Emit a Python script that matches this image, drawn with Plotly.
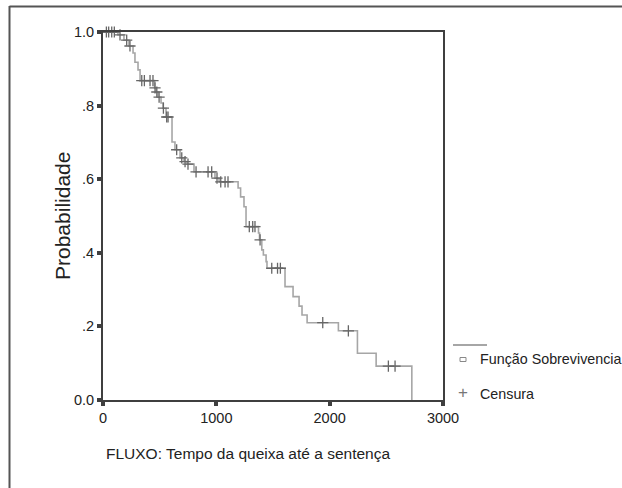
import plotly.graph_objects as go

# Kaplan-Meier survival steps (time, survival)
step_times = [0, 132, 185, 229, 265, 282, 309, 327, 455, 468, 485, 512, 530, 556,
              609, 635, 680, 715, 741, 803, 988, 1024, 1192, 1214, 1244, 1262,
              1372, 1381, 1401, 1415, 1439, 1447, 1606, 1677, 1730, 1756, 1801,
              2077, 2245, 2410, 2725]
step_surv = [1.0, 0.992, 0.978, 0.962, 0.943, 0.918, 0.897, 0.868, 0.848, 0.837,
             0.823, 0.807, 0.793, 0.769, 0.701, 0.680, 0.658, 0.648, 0.641, 0.620,
             0.603, 0.593, 0.576, 0.552, 0.525, 0.471, 0.454, 0.435, 0.408, 0.394,
             0.376, 0.358, 0.308, 0.281, 0.255, 0.231, 0.210, 0.188, 0.127, 0.092,
             0.0]

# Censored observations
censor_times = [30, 50, 77, 100, 150, 209, 238, 342, 365, 415, 441, 459, 475, 495,
                533, 562, 574, 650, 695, 724, 750, 821, 927, 959, 1006, 1039, 1077,
                1103, 1291, 1321, 1341, 1386, 1489, 1540, 1565, 1939, 2165, 2518, 2577]
censor_surv = [1.0, 1.0, 1.0, 1.0, 0.992, 0.978, 0.962, 0.868, 0.868, 0.868, 0.868,
               0.848, 0.837, 0.823, 0.793, 0.769, 0.769, 0.680, 0.658, 0.648, 0.641,
               0.620, 0.620, 0.620, 0.603, 0.593, 0.593, 0.593, 0.471, 0.471, 0.471,
               0.435, 0.358, 0.358, 0.358, 0.210, 0.188, 0.092, 0.092]

x_ticks = [0, 1000, 2000, 3000]
y_ticks = [0.0, 0.2, 0.4, 0.6, 0.8, 1.0]
y_tick_labels = ["0.0", ".2", ".4", ".6", ".8", "1.0"]

FONT = "Liberation Sans, Arial, sans-serif"
FRAME = "#3f3f3f"

W, H = 622, 488
L, R, T, B = 103, 443, 32, 400
pw, ph = R - L, B - T


def px(x):
    return (x - L) / pw


def py(y):
    return (B - y) / ph


fig = go.Figure()
fig.add_trace(go.Scatter(
    x=step_times, y=step_surv, mode="lines", line_shape="hv",
    line=dict(color="#a6a6a6", width=1.6), cliponaxis=False,
    name="Função Sobrevivencia", showlegend=False, hoverinfo="skip"))
fig.add_trace(go.Scatter(
    x=censor_times, y=censor_surv, mode="markers", cliponaxis=False,
    marker=dict(symbol="cross-thin", size=8, line=dict(color="#666666", width=1.3)),
    name="Censura", showlegend=False, hoverinfo="skip"))

fig.update_xaxes(range=[0, 3000], tickvals=x_ticks, showgrid=False, zeroline=False,
                 showline=True, mirror=True, linecolor=FRAME, linewidth=2,
                 ticks="outside", ticklen=4, tickwidth=4, tickcolor=FRAME,
                 tickfont=dict(family=FONT, size=14.5, color="#222"))
fig.update_yaxes(range=[0, 1], tickvals=y_ticks, ticktext=y_tick_labels,
                 showgrid=False, zeroline=False,
                 showline=True, mirror=True, linecolor=FRAME, linewidth=2,
                 ticks="outside", ticklen=4, tickwidth=4, tickcolor=FRAME,
                 tickfont=dict(family=FONT, size=14.5, color="#222"))

annotations = [
    dict(text="Probabilidade", x=px(62), y=py(216), xref="paper", yref="paper",
         textangle=-90, showarrow=False, xanchor="center", yanchor="middle",
         font=dict(family=FONT, size=21, color="#222")),
    dict(text="FLUXO: Tempo da queixa até a sentença", x=px(104), y=py(453),
         xref="paper", yref="paper", showarrow=False, xanchor="left", yanchor="middle",
         font=dict(family=FONT, size=15.5, color="#222")),
    dict(text="Função Sobrevivencia", x=px(478), y=py(359), xref="paper", yref="paper",
         showarrow=False, xanchor="left", yanchor="middle",
         font=dict(family=FONT, size=14.3, color="#222")),
    dict(text="Censura", x=px(478), y=py(394), xref="paper", yref="paper",
         showarrow=False, xanchor="left", yanchor="middle",
         font=dict(family=FONT, size=14.3, color="#222")),
    dict(text="+", x=px(463), y=py(392), xref="paper", yref="paper",
         showarrow=False, xanchor="center", yanchor="middle",
         font=dict(family=FONT, size=17, color="#777")),
]

shapes = [
    # outer frame (top and left)
    dict(type="line", xref="paper", yref="paper", x0=px(9.5), x1=px(660),
         y0=py(6.5), y1=py(6.5), line=dict(color="#555", width=2)),
    dict(type="line", xref="paper", yref="paper", x0=px(9.5), x1=px(9.5),
         y0=py(6), y1=py(520), line=dict(color="#555", width=2)),
    # legend line sample
    dict(type="line", xref="paper", yref="paper", x0=px(453), x1=px(487),
         y0=py(345), y1=py(345), line=dict(color="#a6a6a6", width=2)),
    # legend square
    dict(type="rect", xref="paper", yref="paper", x0=px(460), x1=px(466),
         y0=py(357.5), y1=py(361.5), line=dict(color="#888", width=1)),
]

fig.update_layout(
    width=W, height=H,
    margin=dict(l=L, r=W - R, t=T, b=H - B, pad=0),
    paper_bgcolor="white", plot_bgcolor="white",
    showlegend=False, hovermode=False,
    annotations=annotations, shapes=shapes,
    font=dict(family=FONT),
)

fig.write_html(
    "out.html",
    config={"displayModeBar": False},
    post_script="document.body.style.margin='0';document.body.style.overflow='hidden';",
)
